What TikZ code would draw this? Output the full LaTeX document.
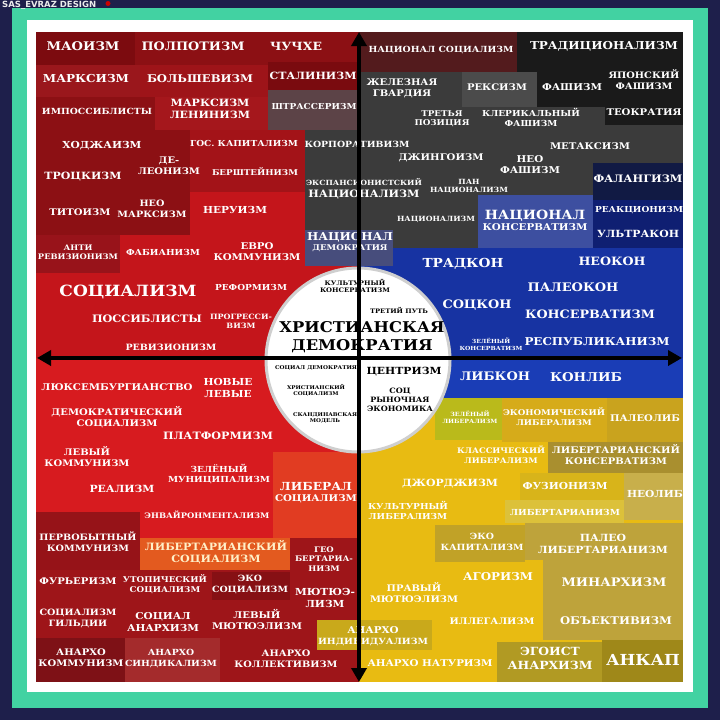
\documentclass[tikz,border=0pt]{standalone}
\usepackage{fontspec}
\usepackage{graphicx}
\setmainfont{DejaVu Serif}
\newfontfamily\wmfont{DejaVu Sans}
\usetikzlibrary{arrows.meta}
\definecolor{navy}{HTML}{1E1F4B}
\definecolor{mint}{HTML}{42D2A2}
\definecolor{rbase}{HTML}{C4151B}
\definecolor{rdark}{HTML}{8C1014}
\definecolor{rmao}{HTML}{7C0B0F}
\definecolor{rmarx}{HTML}{9A171C}
\definecolor{rbolsh}{HTML}{9E1419}
\definecolor{rstal}{HTML}{7A0B0F}
\definecolor{gstrass}{HTML}{5C4347}
\definecolor{rml}{HTML}{A5171C}
\definecolor{rmid}{HTML}{A31318}
\definecolor{ranti}{HTML}{98131A}
\definecolor{ggrey}{HTML}{3B3B3B}
\definecolor{gbluegrey}{HTML}{474D7C}
\definecolor{bblue}{HTML}{1733A2}
\definecolor{tmaroon}{HTML}{531B1D}
\definecolor{tblack}{HTML}{1A1A1A}
\definecolor{tlgrey}{HTML}{4B4B4B}
\definecolor{bslate}{HTML}{3D4FA0}
\definecolor{bnavyblk}{HTML}{111A44}
\definecolor{bnavy}{HTML}{0F1F72}
\definecolor{bband}{HTML}{1A3DB6}
\definecolor{blred}{HTML}{D71B1F}
\definecolor{blorred}{HTML}{E13C22}
\definecolor{bldark}{HTML}{9E1519}
\definecolor{blprim}{HTML}{961318}
\definecolor{blorange}{HTML}{E35A1F}
\definecolor{bleco}{HTML}{861014}
\definecolor{blancom}{HTML}{7E1116}
\definecolor{blansyn}{HTML}{A42B2C}
\definecolor{ybase}{HTML}{E8BB12}
\definecolor{ygreen}{HTML}{BABA1B}
\definecolor{ygold}{HTML}{D6AB1A}
\definecolor{ygoldb}{HTML}{C9A31E}
\definecolor{yolive}{HTML}{A98F2F}
\definecolor{yfus}{HTML}{D8B41A}
\definecolor{ykhaki}{HTML}{C8AF4B}
\definecolor{ylight}{HTML}{DCC13A}
\definecolor{ymustard}{HTML}{BEA33B}
\definecolor{yecocap}{HTML}{C1A227}
\definecolor{yanind}{HTML}{C9A91B}
\definecolor{yegoist}{HTML}{B19A23}
\definecolor{yankap}{HTML}{9F8819}
\definecolor{ring}{HTML}{CFCFCF}
\definecolor{cream}{HTML}{FFF0C8}
\newcommand{\myfs}[1]{\fontsize{#1}{#1}\selectfont}
\newcommand{\mylab}[5][white]{\node[lbl,text=#1] (#2) at (#3) {\resizebox{#4pt}{!}{\scalebox{1.1}[1]{\begin{tabular}{@{}c@{}}#5\end{tabular}}}};}
\tikzset{
  lbl/.style={inner sep=0pt, font=\bfseries},
  axisline/.style={line width=4pt, black, arrows={Triangle[length=14pt,width=15pt]-Triangle[length=14pt,width=15pt]}}
}
\begin{document}
\begin{tikzpicture}[x=1pt,y=-1pt]
\useasboundingbox (0,0) rectangle (720,720);
% frame
\fill[navy] (0,0) rectangle (720,720);
\fill[mint] (12,8) rectangle (708,708);
\fill[white] (27,20) rectangle (693,692);
% watermark
\node[font=\wmfont\bfseries\fontsize{8.5}{8.5}\selectfont, text=white!85!gray, anchor=base west, inner sep=0pt] (wm) at (2,7.5) {SAS\_EVRAZ DESIGN};
\fill[red!80!black] (108,3.5) circle (2.5);
% ---------- top-left
\fill[rbase] (36,32) rectangle (359,358);
\fill[rdark] (36,32) rectangle (359,192);
\fill[rdark] (36,192) rectangle (190,235);
\fill[rmao] (36,32) rectangle (135,65);
\fill[rmarx] (36,65) rectangle (140,97);
\fill[rbolsh] (140,65) rectangle (268,97);
\fill[rstal] (268,62) rectangle (359,90);
\fill[gstrass] (268,90) rectangle (359,130);
\fill[rml] (155,97) rectangle (268,130);
\fill[rmid] (190,130) rectangle (305,192);
\fill[ranti] (36,235) rectangle (120,273);
\fill[ggrey] (305,130) rectangle (359,230);
% ---------- top-right
\fill[bblue] (359,32) rectangle (683,358);
\fill[ggrey] (359,72) rectangle (593,248);
\fill[ggrey] (593,72) rectangle (683,163);
\fill[tmaroon] (359,32) rectangle (517,72);
\fill[tblack] (517,32) rectangle (683,72);
\fill[tlgrey] (462,72) rectangle (537,107);
\fill[tblack] (537,72) rectangle (683,107);
\fill[tblack] (605,107) rectangle (683,125);
\fill[bslate] (478,195) rectangle (593,248);
\fill[bnavyblk] (593,163) rectangle (683,200);
\fill[bnavy] (593,200) rectangle (683,248);
\fill[gbluegrey] (305,230) rectangle (393,266);
\fill[bband] (359,358) rectangle (683,398);
% ---------- bottom-left
\fill[blred] (36,358) rectangle (359,682);
\fill[blorred] (273,452) rectangle (359,538);
\fill[bldark] (36,538) rectangle (359,682);
\fill[blprim] (36,512) rectangle (140,570);
\fill[blorange] (140,538) rectangle (290,570);
\fill[bleco] (212,572) rectangle (290,600);
\fill[blancom] (36,638) rectangle (125,682);
\fill[blansyn] (125,638) rectangle (220,682);
% ---------- bottom-right
\fill[ybase] (359,398) rectangle (683,682);
\fill[ygreen] (435,398) rectangle (502,440);
\fill[ygold] (502,398) rectangle (607,442);
\fill[ygoldb] (607,398) rectangle (683,442);
\fill[yolive] (548,442) rectangle (683,473);
\fill[yfus] (520,473) rectangle (624,500);
\fill[ykhaki] (624,473) rectangle (683,520);
\fill[ylight] (505,500) rectangle (624,523);
\fill[ymustard] (525,523) rectangle (683,560);
\fill[ymustard] (543,560) rectangle (683,640);
\fill[yecocap] (435,525) rectangle (525,562);
\fill[yanind] (317,620) rectangle (432,650);
\fill[yegoist] (497,642) rectangle (602,682);
\fill[yankap] (602,640) rectangle (683,682);
% ---------- circle
\fill[white] (358,360) circle (92);
\draw[ring, line width=3pt] (358,360) circle (92);
% ---------- labels top-left
\mylab{maoism}{83,48}{73}{МАОИЗМ}
\mylab{polpot}{193,48}{103}{ПОЛПОТИЗМ}
\mylab{juche}{296,48}{52}{ЧУЧХЕ}
\mylab{marxism}{86,80}{86}{МАРКСИЗМ}
\mylab{bolshevism}{200,80}{106}{БОЛЬШЕВИЗМ}
\mylab{stalinism}{313,77}{87}{СТАЛИНИЗМ}
\mylab{impossibilism}{97,112}{110}{ИМПОССИБЛИСТЫ}
\mylab{marxlen}{210,110}{80}{МАРКСИЗМ\\ЛЕНИНИЗМ}
\mylab{strasser}{314,108}{85}{ШТРАССЕРИЗМ}
\mylab{hoxha}{102,146}{79}{ХОДЖАИЗМ}
\mylab{statecap}{244,145}{108}{ГОС. КАПИТАЛИЗМ}
\mylab{corporat}{357,145}{105}{КОРПОРАТИВИЗМ}
\mylab{deleon}{169,167}{62}{ДЕ-\\ЛЕОНИЗМ}
\mylab{trotsky}{83,177}{77}{ТРОЦКИЗМ}
\mylab{bernstein}{255,173}{86}{БЕРШТЕЙНИЗМ}
\mylab{expnat}{364,189}{116}{{\myfs{7}ЭКСПАНСИОНИСТСКИЙ}\\НАЦИОНАЛИЗМ}
\mylab{tito}{80,213}{61}{ТИТОИЗМ}
\mylab{neomarx}{152,210}{69}{НЕО\\МАРКСИЗМ}
\mylab{nehru}{235,211}{64}{НЕРУИЗМ}
\mylab{natdem}{350,243}{86}{{\myfs{13.8}НАЦИОНАЛ}\\ДЕМОКРАТИЯ}
\mylab{antirev}{78,253}{80}{АНТИ\\РЕВИЗИОНИЗМ}
\mylab{fabian}{163,254}{74}{ФАБИАНИЗМ}
\mylab{eurocom}{257,253}{87}{ЕВРО\\КОММУНИЗМ}
\mylab{socialism}{128,293}{137}{СОЦИАЛИЗМ}
\mylab{reformism}{251,289}{72}{РЕФОРМИЗМ}
\mylab{possibilism}{147,320}{110}{ПОССИБЛИСТЫ}
\mylab{progress}{241,322}{62}{ПРОГРЕССИ-\\ВИЗМ}
\mylab{revisionism}{171,348}{91}{РЕВИЗИОНИЗМ}
% ---------- circle labels
\mylab[black]{cultcons}{355,287}{70}{КУЛЬТУРНЫЙ\\КОНСЕРВАТИЗМ}
\mylab[black]{thirdway}{399,312}{58}{ТРЕТИЙ ПУТЬ}
\mylab[black]{chrdem}{362,338}{165}{ХРИСТИАНСКАЯ\\ДЕМОКРАТИЯ}
\mylab[black]{socdem}{316,368}{82}{СОЦИАЛ ДЕМОКРАТИЯ}
\mylab[black]{chrsoc}{316,391}{58}{ХРИСТИАНСКИЙ\\СОЦИАЛИЗМ}
\mylab[black]{nordic}{325,418}{64}{СКАНДИНАВСКАЯ\\МОДЕЛЬ}
\mylab[black]{centrism}{404,372}{75}{ЦЕНТРИЗМ}
\mylab[black]{socmarket}{400,401}{66}{СОЦ\\РЫНОЧНАЯ\\ЭКОНОМИКА}
% ---------- bottom-left
\mylab{luxemb}{117,388}{151}{ЛЮКСЕМБУРГИАНСТВО}
\mylab{newleft}{228,389}{49}{НОВЫЕ\\ЛЕВЫЕ}
\mylab{demsoc}{117,418}{131}{ДЕМОКРАТИЧЕСКИЙ\\СОЦИАЛИЗМ}
\mylab{platform}{218,437}{110}{ПЛАТФОРМИЗМ}
\mylab{leftcom}{87,458}{85}{ЛЕВЫЙ\\КОММУНИЗМ}
\mylab{greenmun}{219,475}{102}{ЗЕЛЁНЫЙ\\МУНИЦИПАЛИЗМ}
\mylab{realism}{122,490}{65}{РЕАЛИЗМ}
\mylab{libsoc}{316,494}{82}{{\myfs{12}ЛИБЕРАЛ}\\СОЦИАЛИЗМ}
\mylab{environ}{207,516}{125}{ЭНВАЙРОНМЕНТАЛИЗМ}
\mylab{primcom}{88,543}{97}{ПЕРВОБЫТНЫЙ\\КОММУНИЗМ}
\mylab[cream]{libertsoc}{216,553}{142}{ЛИБЕРТАРИАНСКИЙ\\СОЦИАЛИЗМ}
\mylab{geolib}{324,560}{58}{ГЕО\\БЕРТАРИА-\\НИЗМ}
\mylab{fourier}{78,582}{77}{ФУРЬЕРИЗМ}
\mylab{utopsoc}{165,585}{84}{УТОПИЧЕСКИЙ\\СОЦИАЛИЗМ}
\mylab{ecosoc}{250,585}{76}{ЭКО\\СОЦИАЛИЗМ}
\mylab{mutual}{325,599}{60}{МЮТЮЭ-\\ЛИЗМ}
\mylab{guildsoc}{78,619}{77}{СОЦИАЛИЗМ\\ГИЛЬДИИ}
\mylab{socanar}{163,623}{72}{СОЦИАЛ\\АНАРХИЗМ}
\mylab{leftmut}{257,621}{90}{ЛЕВЫЙ\\МЮТЮЭЛИЗМ}
\mylab{ancom}{81,659}{85}{АНАРХО\\КОММУНИЗМ}
\mylab{ansynd}{171,659}{92}{АНАРХО\\СИНДИКАЛИЗМ}
\mylab{ancoll}{286,660}{103}{АНАРХО\\КОЛЛЕКТИВИЗМ}
\mylab{anind}{373,637}{110}{{\myfs{11}АНАРХО}\\ИНДИВИДУАЛИЗМ}
% ---------- bottom-right
\mylab{greenlib}{470,418}{55}{ЗЕЛЁНЫЙ\\ЛИБЕРАЛИЗМ}
\mylab{econlib}{554,418}{102}{ЭКОНОМИЧЕСКИЙ\\ЛИБЕРАЛИЗМ}
\mylab{paleolib}{645,419}{70}{ПАЛЕОЛИБ}
\mylab{classlib}{501,456}{88}{КЛАССИЧЕСКИЙ\\ЛИБЕРАЛИЗМ}
\mylab{libcons}{616,456}{128}{ЛИБЕРТАРИАНСКИЙ\\КОНСЕРВАТИЗМ}
\mylab{georgism}{450,484}{96}{ДЖОРДЖИЗМ}
\mylab{fusion}{565,487}{85}{ФУЗИОНИЗМ}
\mylab{neolib}{655,495}{56}{НЕОЛИБ}
\mylab{cultlib}{408,512}{80}{КУЛЬТУРНЫЙ\\ЛИБЕРАЛИЗМ}
\mylab{libertarian}{565,513}{110}{ЛИБЕРТАРИАНИЗМ}
\mylab{ecocap}{482,543}{83}{ЭКО\\КАПИТАЛИЗМ}
\mylab{paleolibert}{603,545}{130}{ПАЛЕО\\ЛИБЕРТАРИАНИЗМ}
\mylab{agorism}{498,578}{70}{АГОРИЗМ}
\mylab{minarch}{614,584}{105}{МИНАРХИЗМ}
\mylab{rightmut}{414,594}{88}{ПРАВЫЙ\\МЮТЮЭЛИЗМ}
\mylab{illegal}{492,622}{85}{ИЛЛЕГАЛИЗМ}
\mylab{objectiv}{616,622}{112}{ОБЪЕКТИВИЗМ}
\mylab{annat}{430,664}{125}{АНАРХО НАТУРИЗМ}
\mylab{egoist}{550,660}{85}{ЭГОИСТ\\АНАРХИЗМ}
\mylab{ancap}{643,662}{74}{АНКАП}
% ---------- blue
\mylab{libcon}{495,378}{70}{ЛИБКОН}
\mylab{conlib}{586,379}{72}{КОНЛИБ}
\mylab{tradcon}{463,265}{81}{ТРАДКОН}
\mylab{neocon}{612,263}{67}{НЕОКОН}
\mylab{soccon}{477,306}{69}{СОЦКОН}
\mylab{paleocon}{573,289}{91}{ПАЛЕОКОН}
\mylab{conserv}{590,316}{130}{КОНСЕРВАТИЗМ}
\mylab{greencons}{491,345}{63}{ЗЕЛЁНЫЙ\\КОНСЕРВАТИЗМ}
\mylab{republic}{597,343}{145}{РЕСПУБЛИКАНИЗМ}
% ---------- grey
\mylab{natsoc}{441,50}{145}{НАЦИОНАЛ СОЦИАЛИЗМ}
\mylab{tradit}{604,47}{148}{ТРАДИЦИОНАЛИЗМ}
\mylab{irongd}{402,89}{71}{ЖЕЛЕЗНАЯ\\ГВАРДИЯ}
\mylab{rexism}{497,88}{60}{РЕКСИЗМ}
\mylab{fascism}{572,88}{60}{ФАШИЗМ}
\mylab{japfasc}{644,81}{71}{ЯПОНСКИЙ\\ФАШИЗМ}
\mylab{thirdpos}{442,119}{55}{ТРЕТЬЯ\\ПОЗИЦИЯ}
\mylab{clerfasc}{531,119}{98}{КЛЕРИКАЛЬНЫЙ\\ФАШИЗМ}
\mylab{theocr}{644,113}{75}{ТЕОКРАТИЯ}
\mylab{metax}{590,147}{80}{МЕТАКСИЗМ}
\mylab{jingo}{441,158}{85}{ДЖИНГОИЗМ}
\mylab{neofasc}{530,166}{60}{НЕО\\ФАШИЗМ}
\mylab{pannat}{469,187}{78}{ПАН\\НАЦИОНАЛИЗМ}
\mylab{falang}{638,180}{89}{ФАЛАНГИЗМ}
\mylab{nationalism}{436,220}{78}{НАЦИОНАЛИЗМ}
\mylab{natcons}{535,222}{105}{{\myfs{13.6}НАЦИОНАЛ}\\КОНСЕРВАТИЗМ}
\mylab{reaction}{639,211}{88}{РЕАКЦИОНИЗМ}
\mylab{ultracon}{638,235}{82}{УЛЬТРАКОН}
% ---------- axes
\coordinate (ytop) at (359,32);
\coordinate (ybot) at (359,682);
\coordinate (xleft) at (37,358);
\coordinate (xright) at (682,358);
\draw[axisline] (ybot) -- (ytop);
\draw[axisline] (xleft) -- (xright);
\end{tikzpicture}
\end{document}
